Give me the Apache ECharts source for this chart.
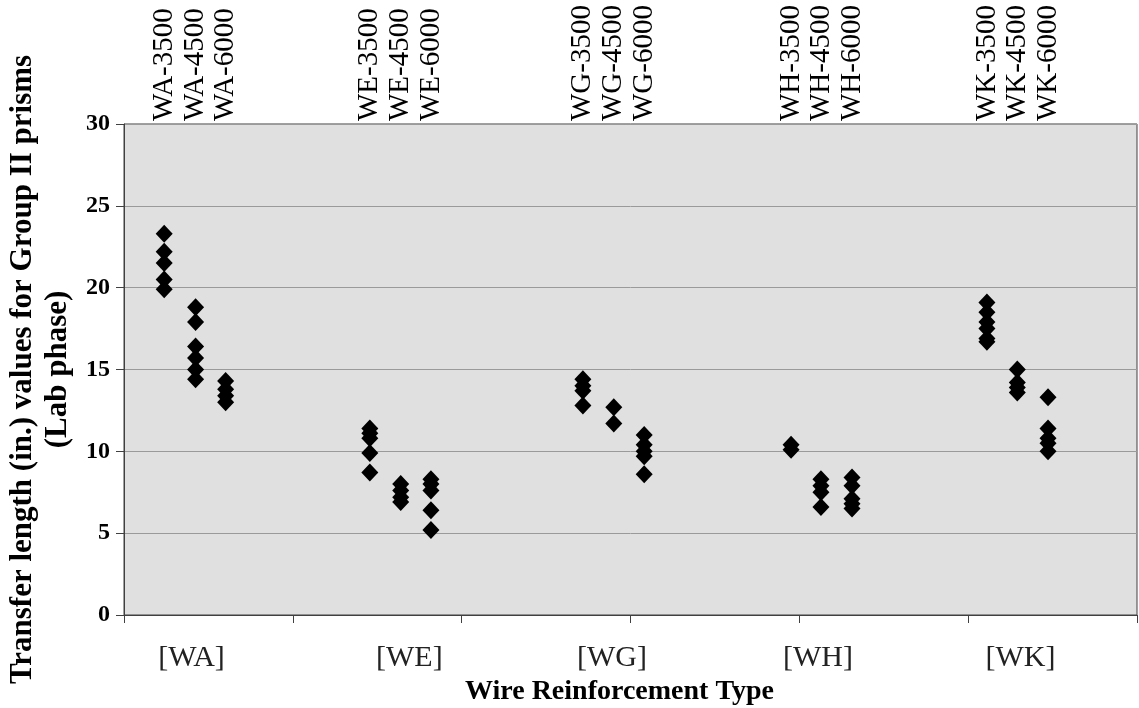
<!DOCTYPE html>
<html>
<head>
<meta charset="utf-8">
<script src="https://cdn.jsdelivr.net/npm/echarts@6/dist/echarts.min.js"></script>
<style>
html,body{margin:0;padding:0;background:#fff;}
#c{width:1139px;height:708px;}
</style>
</head>
<body>
<div id="c"></div>
<script>
// ---- data ----
const groupNames = ['[WA]', '[WE]', '[WG]', '[WH]', '[WK]'];
const groupLabelX = [0.40, 1.69, 2.89, 4.11, 5.31];
const seriesNames = ['WA-3500','WA-4500','WA-6000','WE-3500','WE-4500','WE-6000',
  'WG-3500','WG-4500','WG-6000','WH-3500','WH-4500','WH-6000','WK-3500','WK-4500','WK-6000'];
const seriesX = [0.238, 0.424, 0.602, 1.456, 1.639, 1.818, 2.718, 2.901, 3.081,
  3.951, 4.128, 4.312, 5.111, 5.291, 5.473];
const WA3500 = [23.3, 22.2, 21.5, 20.5, 19.9];
const WA4500 = [18.8, 17.9, 16.4, 15.7, 15.0, 14.4];
const WA6000 = [14.3, 13.8, 13.4, 13.0];
const WE3500 = [11.4, 11.1, 10.8, 9.9, 8.7];
const WE4500 = [8.0, 7.6, 7.2, 6.9];
const WE6000 = [8.3, 8.0, 7.6, 6.4, 5.2];
const WG3500 = [14.4, 14.0, 13.7, 12.8];
const WG4500 = [12.7, 11.7];
const WG6000 = [11.0, 10.4, 10.0, 9.7, 8.6];
const WH3500 = [10.4, 10.1];
const WH4500 = [8.3, 7.9, 7.5, 6.6];
const WH6000 = [8.4, 7.9, 7.1, 6.8, 6.5];
const WK3500 = [19.1, 18.5, 17.9, 17.5, 16.9, 16.7];
const WK4500 = [15.0, 14.2, 13.9, 13.6];
const WK6000 = [13.3, 11.4, 10.8, 10.5, 10.0];
const yTicks = [0, 5, 10, 15, 20, 25, 30];

const seriesValues = [WA3500, WA4500, WA6000, WE3500, WE4500, WE6000, WG3500, WG4500, WG6000,
  WH3500, WH4500, WH6000, WK3500, WK4500, WK6000];

function nearestName(v, xs, names) {
  let best = 0, bd = Infinity;
  xs.forEach((x, i) => { const d = Math.abs(x - v); if (d < bd) { bd = d; best = i; } });
  return names[best];
}

const FONT = 'Liberation Serif';
const chart = echarts.init(document.getElementById('c'), null, {renderer: 'canvas'});

const series = seriesNames.map((n, i) => ({
  name: n,
  type: 'scatter',
  xAxisIndex: 0,
  yAxisIndex: 0,
  symbol: 'diamond',
  symbolSize: [17, 18],
  itemStyle: {color: '#000', opacity: 1},
  data: seriesValues[i].map(v => [seriesX[i], v]),
  silent: true,
  animation: false
}));

chart.setOption({
  animation: false,
  backgroundColor: '#fff',
  grid: {
    left: 124, right: 2, top: 124, bottom: 93,
    outerBoundsMode: 'none', containLabel: false,
    show: true, backgroundColor: '#e0e0e0', borderColor: '#404040', borderWidth: 1
  },
  xAxis: [
    {
      type: 'value', min: 0, max: 6, interval: 1, position: 'bottom',
      axisLine: {show: true, onZero: false, lineStyle: {color: '#404040', width: 1}},
      axisTick: {show: true, length: 8, lineStyle: {color: '#404040'}},
      axisLabel: {show: false},
      splitLine: {show: false}
    },
    {
      type: 'value', min: 0, max: 6, position: 'bottom',
      axisLine: {show: false},
      axisTick: {show: false},
      splitLine: {show: false},
      axisLabel: {
        show: true, customValues: groupLabelX, margin: 28,
        fontFamily: FONT, fontSize: 30, color: '#222',
        formatter: v => nearestName(v, groupLabelX, groupNames)
      },
      name: 'Wire Reinforcement Type', nameLocation: 'middle', nameGap: 61,
      nameTextStyle: {fontFamily: FONT, fontSize: 28, fontWeight: 'bold', color: '#000', padding: [0, 22, 0, 0]}
    },
    {
      type: 'value', min: 0, max: 6, position: 'top',
      axisLine: {show: false},
      axisTick: {show: false},
      splitLine: {show: false},
      axisLabel: {
        show: true, customValues: seriesX, rotate: -90, margin: 3,
        fontFamily: FONT, fontSize: 29, color: '#000',
        formatter: v => nearestName(v, seriesX, seriesNames)
      }
    }
  ],
  yAxis: [{
    type: 'value', min: 0, max: 30, interval: 5,
    axisLine: {show: true, lineStyle: {color: '#404040', width: 1}},
    axisTick: {show: true, length: 8, lineStyle: {color: '#404040'}},
    axisLabel: {
      margin: 14, fontFamily: FONT, fontSize: 24, fontWeight: 'bold', color: '#000',
      customValues: yTicks
    },
    splitLine: {show: true, lineStyle: {color: '#9a9a9a', width: 1}},
    name: 'Transfer length (in.) values for Group II prisms\n(Lab phase)',
    nameLocation: 'middle', nameGap: 48, nameRotate: 90,
    nameTextStyle: {fontFamily: FONT, fontSize: 31, fontWeight: 'bold', color: '#000', lineHeight: 35, align: 'center'}
  }],
  series: series
});
</script>
</body>
</html>
